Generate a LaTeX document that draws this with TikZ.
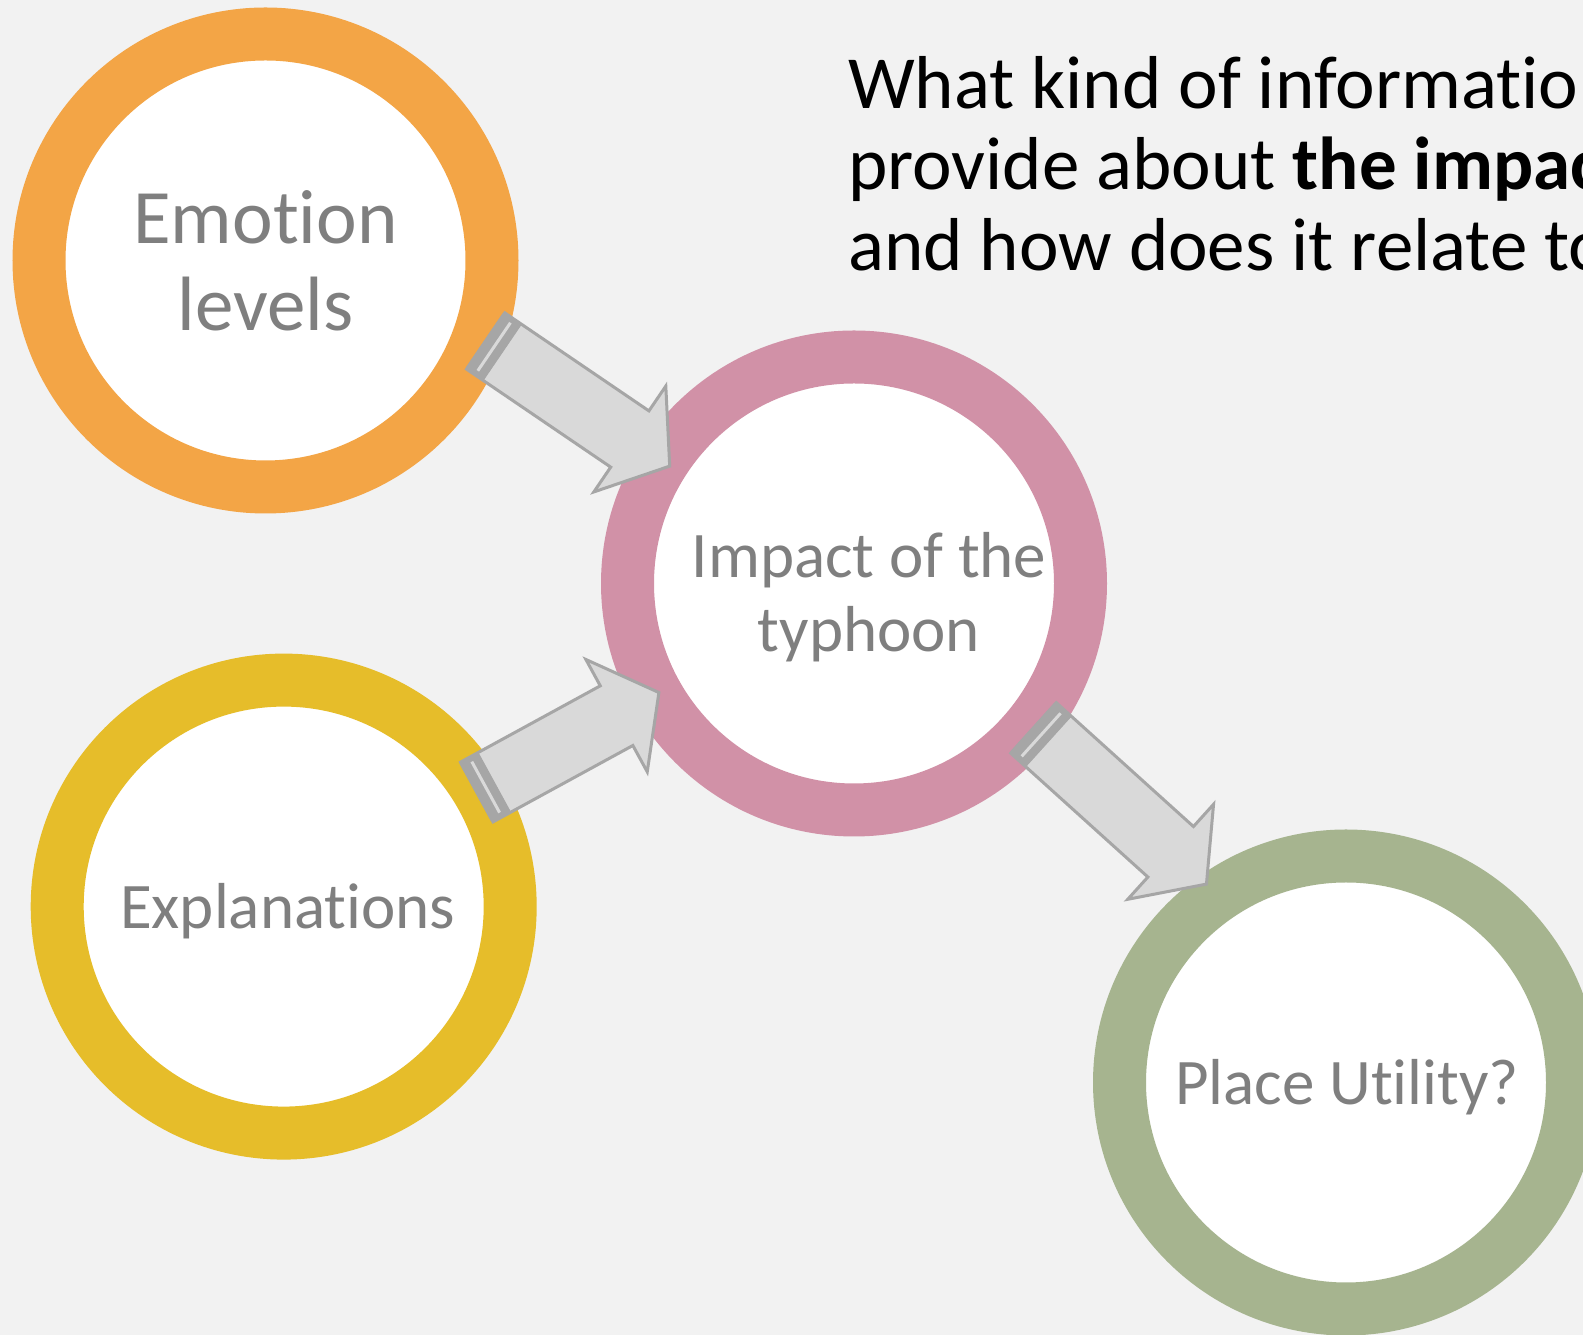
\documentclass[tikz,border=0pt]{standalone}
\usepackage{fontspec}
\setmainfont{Carlito}[Ligatures=NoCommon]
\usetikzlibrary{shapes.arrows,calc,positioning}
\definecolor{bgcol}{HTML}{F2F2F2}
\definecolor{orangering}{HTML}{F3A546}
\definecolor{yellowring}{HTML}{E6BD2A}
\definecolor{pinkring}{HTML}{D191A7}
\definecolor{greenring}{HTML}{A6B48F}
\definecolor{arrowfill}{HTML}{D9D9D9}
\definecolor{arrowline}{HTML}{A6A6A6}
\definecolor{labelgray}{HTML}{7F7F7F}

\tikzset{
	ring/.style={circle,draw=#1,line width=53pt,fill=white,minimum size=453pt,inner sep=0pt,outer sep=0pt},
	ringtext/.style={text=labelgray,align=center,inner sep=0pt,font=\fontsize{65}{74}\selectfont},
	bigarrow/.style={single arrow,draw=arrowline,fill=arrowfill,line width=3pt,inner xsep=0pt,inner ysep=32.5pt,minimum width=0pt,single arrow head extend=30pt,single arrow tip angle=106,sloped,allow upside down,anchor=tail},
	tailband/.style={rectangle,fill=arrowline,draw=arrowline,line width=1pt,minimum width=21pt,minimum height=65pt,inner sep=0pt,sloped,allow upside down,anchor=west},
	tailline/.style={rectangle,fill=arrowfill,minimum width=3pt,minimum height=58pt,inner sep=0pt,sloped,allow upside down,anchor=west},
	question/.style={anchor=base west,inner sep=0pt,font=\fontsize{75}{81}\selectfont}
}

% block arrow from #1 (tail) to #2 (tip), named #3
\newcommand{\flowarrow}[3]{%
	\path let \p1=($(#2)-(#1)$), \n1={veclen(\x1,\y1)} in
		(#1) -- (#2)
		node[bigarrow,pos=0,minimum height=\n1] (#3) {}
		node[tailband,pos=0] (#3-band) {}
		node[tailline,pos={10/\n1}] (#3-line) {};
}

\begin{document}
\begin{tikzpicture}[x=1pt,y=1pt]
	\useasboundingbox (0,0) rectangle (1583,1335);
	\fill[bgcol] (0,0) rectangle (1583,1335);
	\clip (0,0) rectangle (1583,1335);

	% circles
	\node[ring=orangering] (emo) at (265.5,1074.5) {};
	\node[ring=pinkring] (imp) at (854,751.5) {};
	\node[ring=yellowring] (expl) at (283.7,428.4) {};
	\node[ring=greenring] (place) at (1346,252.5) {};

	\begin{scope}[every node/.style={ringtext}]
		\node[font=\fontsize{77}{87}\selectfont] (emotext) at (emo) {Emotion\\levels};
		\node (imptext) at ($(imp)+(15,-14)$) {Impact of the\\typhoon};
		\node (expltext) at ($(expl)+(4,-5)$) {Explanations};
		\node (placetext) at ($(place)+(1,-5)$) {Place Utility?};
	\end{scope}

	% arrows
	\coordinate (t1) at ($(emo)+(-20:233)$);
	\coordinate (h1) at ($(imp)+(147.5:220)$);
	\coordinate (t2) at ($(expl)+(30.7:223)$);
	\coordinate (h2) at ($(imp)+(209.2:225)$);
	\coordinate (t3) at ($(imp)+(-38.8:229)$);
	\coordinate (h3) at ($(place)+(125.2:244)$);
	\flowarrow{t1}{h1}{arr1}
	\flowarrow{t2}{h2}{arr2}
	\flowarrow{t3}{h3}{arr3}

	% question
	\node[question] (q1) at (848,1226) {What kind of information};
	\node[question] (q2) at (848,1145) {provide about \textbf{the impact}};
	\node[question] (q3) at (848,1064.4) {and how does it relate to};
\end{tikzpicture}
\end{document}
